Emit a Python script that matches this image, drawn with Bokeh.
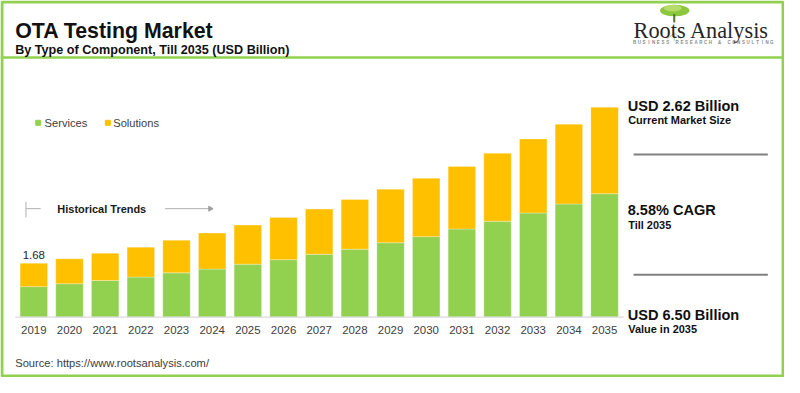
from bokeh.plotting import figure
from bokeh.models import Range1d
from bokeh.core.properties import value
from bokeh.embed import file_html
from bokeh.resources import INLINE

# ---------------- data ----------------
years = list(range(2019, 2036))
year_labels = [str(y) for y in years]
series_names = ["Services", "Solutions"]
services = [0.95, 1.04, 1.14, 1.25, 1.38, 1.50, 1.65, 1.79, 1.96, 2.12, 2.32, 2.51, 2.75, 2.99, 3.25, 3.53, 3.85]
solutions = [0.73, 0.78, 0.85, 0.93, 1.02, 1.12, 1.22, 1.32, 1.41, 1.55, 1.67, 1.82, 1.95, 2.12, 2.31, 2.49, 2.70]
first_total_label = "1.68"

title_text = "OTA Testing Market"
subtitle_text = "By Type of Component, Till 2035 (USD Billion)"
source_text = "Source: https://www.rootsanalysis.com/"
logo_text = "Roots Analysis"
tagline_text = "BUSINESS RESEARCH & CONSULTING"
panel_big = ["USD 2.62 Billion", "8.58% CAGR", "USD 6.50 Billion"]
panel_small = ["Current Market Size", "Till 2035", "Value in 2035"]

GREEN = "#92D050"
YELLOW = "#FFC000"
FONT = "Liberation Sans"
FS = 0.97  # font scale (canvas is slightly smaller than the 800x393 design)


def fs(px):
    return f"{px * FS:.2f}px"


W, H = 784, 377
# layout coordinates are in the 800 x 393 design space
p = figure(width=W, height=H, output_backend="svg", toolbar_location=None,
           x_range=Range1d(0, 800), y_range=Range1d(393, 0),
           min_border=0, min_border_left=0, min_border_right=0,
           min_border_top=0, min_border_bottom=0)
p.axis.visible = False
p.grid.visible = False
p.outline_line_color = None
p.background_fill_color = "white"
p.border_fill_color = "white"

# ranges for the bars
px_per_unit = 33.4
base_px = 330.0
pitch = 36.4
x0 = 34.0
p.extra_x_ranges = {"bx": Range1d(2019 + (0 - x0) / pitch, 2019 + (800 - x0) / pitch)}
p.extra_y_ranges = {"by": Range1d((base_px - 393) / px_per_unit, (base_px - 0) / px_per_unit)}

# ---------------- bars ----------------
source = dict(year=years, Services=services, Solutions=solutions)
p.vbar_stack(series_names, x="year", width=0.77, color=[GREEN, YELLOW],
             line_color="white", line_width=0.6, line_alpha=0.5,
             source=source, x_range_name="bx", y_range_name="by")

# baseline
p.segment(x0=[15], y0=[0], x1=[636], y1=[0], line_color="#d9d9d9", line_width=1.2,
          y_range_name="by")

# year labels
p.text(x=years, y=[343.5] * len(years), text=year_labels, x_range_name="bx",
       text_align="center", text_baseline="middle", text_font=value(FONT),
       text_font_size=fs(11.8), text_color="#404040")

# first total label
p.text(x=[years[0]], y=[services[0] + solutions[0]], text=[first_total_label],
       x_range_name="bx", y_range_name="by", y_offset=-8,
       text_align="center", text_baseline="alphabetic", text_font=value(FONT),
       text_font_size=fs(11.8), text_color="#262626")

# ---------------- frame, title ----------------
p.quad(left=[1.5], right=[798.5], top=[1.5], bottom=[391.5], fill_color=None,
       line_color=GREEN, line_width=3)
p.segment(x0=[0], y0=[59.5], x1=[800], y1=[59.5], line_color=GREEN, line_width=2.5)

p.text(x=[15], y=[31.5], text=[title_text], text_align="left", text_baseline="alphabetic",
       text_font=value(FONT), text_font_style="bold", text_font_size=fs(22), text_color="#111111")
p.text(x=[15], y=[52], text=[subtitle_text], text_align="left", text_baseline="alphabetic",
       text_font=value(FONT), text_font_style="bold", text_font_size=fs(13), text_color="#111111")

# logo
p.ellipse(x=[688], y=[10.5], width=[30], height=[12], fill_color="#8dc63f", line_color=None)
p.ellipse(x=[686], y=[8], width=[18], height=[7], fill_color="#b5dc6a", line_color=None)
p.segment(x0=[687.5], y0=[14], x1=[687.5], y1=[23], line_color="#4f7a28", line_width=2)
p.segment(x0=[680, 687.5, 687.5], y0=[40, 34, 34], x1=[687.5, 695, 687.5], y1=[34, 40, 42],
          line_color="#b8c9a8", line_width=1)
p.text(x=[646], y=[31.5], text=[logo_text], text_align="left", text_baseline="alphabetic",
       text_font=value("Liberation Serif"), text_font_size=fs(23), text_color="#262626")
tag_chars = list(tagline_text)
tag_step = (787 - 647) / (len(tag_chars) - 1)
tag_x = [647 + i * tag_step for i in range(len(tag_chars))]
p.text(x=tag_x, y=[43.5] * len(tag_chars), text=tag_chars,
       text_align="center", text_baseline="middle", text_font=value(FONT),
       text_font_style="bold", text_font_size=fs(4.6), text_color="#8a8a8a")

# ---------------- legend ----------------
p.scatter(x=[38.5, 109.5], y=[127.5, 127.5], marker="square", size=5, color=[GREEN, YELLOW])
p.text(x=[45, 115], y=[127.5, 127.5], text=series_names, text_align="left",
       text_baseline="middle", text_font=value(FONT), text_font_size=fs(11.5),
       text_color="#404040")

# historical trends
p.segment(x0=[26, 26, 168], y0=[210, 217, 217], x1=[26, 41, 214], y1=[226, 217, 217],
          line_color="#b0b0b0", line_width=1)
p.scatter(x=[214], y=[217], marker="triangle", angle=-1.5708, size=5, color="#a0a0a0")
p.text(x=[58], y=[217], text=["Historical Trends"], text_align="left", text_baseline="middle",
       text_font=value(FONT), text_font_style="bold", text_font_size=fs(11.3),
       text_color="#1a1a1a")

# ---------------- right panel ----------------
p.text(x=[640, 640, 640], y=[110, 218.5, 327.5], text=panel_big, text_align="left",
       text_baseline="middle", text_font=value(FONT), text_font_style="bold",
       text_font_size=fs(15), text_color="#111111")
p.text(x=[640.5, 640.5, 640.5], y=[124.5, 234, 342.5], text=panel_small, text_align="left",
       text_baseline="middle", text_font=value(FONT), text_font_style="bold",
       text_font_size=fs(11.3), text_color="#111111")
p.segment(x0=[646, 646], y0=[160.5, 286], x1=[783, 783], y1=[160.5, 286],
          line_color="#808080", line_width=2)

# source
p.text(x=[15], y=[377.5], text=[source_text], text_align="left", text_baseline="middle",
       text_font=value(FONT), text_font_size=fs(11.5), text_color="#404040")

open("out.html", "w").write(file_html(p, INLINE))
